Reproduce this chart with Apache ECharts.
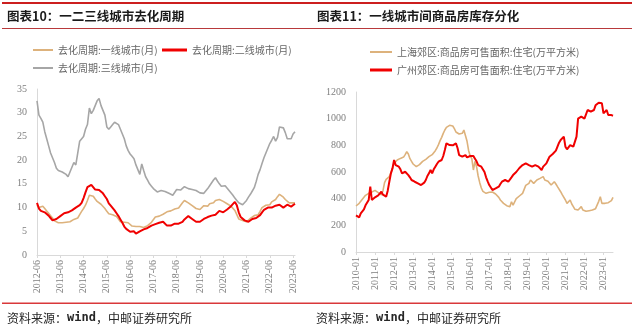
<!DOCTYPE html>
<html><head><meta charset="utf-8">
<script src="https://cdn.jsdelivr.net/npm/echarts@6/dist/echarts.min.js"></script>
<style>html,body{margin:0;padding:0;background:#fff}#c{width:640px;height:332px}</style>
</head><body><div id="c"></div>
<script>
// ---------- data ----------
const leftTitle = '图表10：一二三线城市去化周期';
const rightTitle = '图表11：一线城市间商品房库存分化';
const sourceText = ['资料来源：', 'wind', '，中邮证券研究所'];

const leftNames = ['去化周期:一线城市(月)', '去化周期:二线城市(月)', '去化周期:三线城市(月)'];
const rightNames = ['上海郊区:商品房可售面积:住宅(万平方米)', '广州郊区:商品房可售面积:住宅(万平方米)'];

const leftStart = [2012, 6], leftCount = 134;
const rightStart = [2010, 1], rightCount = 163;

const tier1 = [10.5,10,10.2,10.3,9.8,9.3,8.8,8.3,7.8,7.2,
6.9,6.8,6.8,6.8,6.8,6.9,6.9,7,7.2,7.5,
7.7,7.8,8.5,9.2,9.8,10.5,11.5,12.6,12.8,12.4,
11.8,11.3,11,10.7,10.3,9.8,9.2,8.7,8.5,8.5,
8.4,8.1,7.6,7,6.8,6.9,7,6.8,6.4,6.1,
6,6,6,6,5.9,5.8,5.9,6.2,6.6,6.9,
7.3,8,8.1,8.2,8.4,8.6,8.9,9.1,9.3,9.3,
9.5,9.7,9.8,9.9,10.2,11,11.5,11.3,11,10.7,
10.4,10,9.8,9.5,9.6,9.8,10.4,10.5,10.3,10.8,
11,11,11.5,11.7,11.7,11.5,11.3,11,10.8,10.6,
10.3,10,9.4,8.5,7.6,7.4,7.3,7.2,7,7.3,
7.7,8,8.3,8.6,8.5,9.2,10,10.4,10.5,10.5,
10.6,11.2,11.5,11.7,12.3,12.8,12.6,12.2,11.7,11.3,
11,10.9,11,11];

const tier2 = [11,9.8,9.3,9.2,9,8.7,8.3,7.8,7.3,7.4,
7.6,7.9,8.2,8.5,8.8,8.8,9,9.2,9.4,9.8,
10,10,10.5,11,12,13.2,14.3,14.7,14.8,14.4,
13.8,13.7,13.7,13.4,13,12.4,11.8,10.9,10.4,10,
9.4,8.8,8.2,7.5,6.8,6,5.5,5.1,4.9,4.8,
5,4.5,4.6,5,5.3,5.4,5.5,5.7,5.8,6.2,
6.3,6.5,6.6,6.8,6.9,7,6.9,6.2,6,6.2,
6.4,6.6,7,6.6,6.8,7,7.5,7.8,8.2,8.1,
7.6,7.3,7,7,7,7.3,7.6,8,8,8,
8.3,8.5,8.5,8.9,9.3,9.1,9,9.4,9.6,10,
10.3,10.7,11.2,10.5,9,8,7.6,7.3,7.1,7,
7.4,7.6,7.7,7.8,7.9,8.4,9,9.5,9.8,10,
10,10,10.1,10.4,10.8,10.6,10.4,10,10.1,10.6,
10.3,10.2,10.6,10.8];

const tier3 = [32.5,29.5,28.8,28,26,24.5,23,21.5,20.5,19.5,
18.3,17.8,17.5,17.5,17.2,17,16.5,17.5,18.5,19.5,
19,21.5,24,24.3,25,26.5,27.5,31,29.8,30.5,
31.5,32.5,33,31.5,30.5,29.5,27,26.5,27,27.5,
28,27.8,27.5,26.5,25.5,24.5,23,22,21.3,20.8,
20.3,19,18,17,19.2,17.8,16.5,15.8,15,14.5,
14,13.6,13.3,13.2,13.6,13.8,13.4,13.5,13,12.8,
12.6,12.3,13.8,13.6,13.7,14,14.4,14.2,14,13.9,
13.8,13.8,13.6,13.3,13.1,13,13,13.3,14,14.6,
15,15.8,16.3,15.6,15,14.5,14.6,14.6,14.2,13.6,
13.2,12.6,12,11.5,11,10.7,10.6,11,11.5,12.2,
12.8,13.5,14.2,15.5,17,18,19.3,20.5,21.5,22.5,
23.5,24.2,25,24,24.8,27,27.3,26.8,25.8,24.5,
24.3,24.5,25.5,26];

const shanghai = [345,350,365,380,395,410,425,432,440,445,
450,458,462,455,445,435,428,460,520,545,
555,565,595,627,665,680,690,698,702,705,
712,730,752,735,700,680,660,645,640,640,
655,670,680,688,695,705,715,722,730,745,
760,780,805,835,860,890,915,935,945,950,
955,945,925,900,895,885,877,890,915,900,
830,760,720,700,615,680,640,570,520,480,
455,445,440,440,448,452,450,440,435,427,
410,390,375,365,355,347,345,340,377,352,
360,400,415,420,427,440,452,500,505,515,
540,530,515,530,540,545,552,560,565,540,
535,530,520,502,510,527,510,490,480,452,
430,415,390,365,380,390,360,340,320,315,
315,330,340,315,307,305,302,310,315,315,
320,325,332,380,415,365,365,365,365,370,
375,385,410];

const guangzhou = [275,270,260,290,300,320,350,360,390,490,
390,380,410,415,425,440,452,430,420,415,
460,527,590,627,690,652,645,640,620,590,
600,602,590,577,560,540,545,527,520,515,
520,502,500,520,540,570,590,615,590,620,
640,660,677,680,690,720,765,815,800,802,
790,800,815,815,780,727,715,715,727,727,
710,702,720,727,720,700,680,652,660,640,
640,600,560,530,502,490,465,470,477,485,
490,510,527,535,540,530,527,540,560,577,
590,600,615,630,645,652,660,665,660,652,
645,640,645,652,645,640,630,615,640,650,
665,690,715,725,735,740,760,790,820,840,
827,865,790,770,765,802,795,790,800,865,
1000,1005,1015,1010,1000,990,1065,1058,1052,1060,
1065,1100,1115,1120,1127,1115,1040,1045,1065,1027,
1030,1027,1022];

// ---------- build ----------
function monthRange(y, m, n) {
  const out = [];
  for (let i = 0; i < n; i++) {
    const yy = y + Math.floor((m - 1 + i) / 12);
    const mm = (m - 1 + i) % 12 + 1;
    out.push(yy + '-' + (mm < 10 ? '0' : '') + mm);
  }
  return out;
}
const leftCats = monthRange(leftStart[0], leftStart[1], leftCount);
const rightCats = monthRange(rightStart[0], rightStart[1], rightCount);

const C_TAN = '#DDB27C', C_RED = '#F00000', C_GREY = '#A6A6A6';
const CJK = '"Noto Sans CJK SC", sans-serif';
const SERIF = '"Liberation Serif", "DejaVu Serif", serif';

function xAxis(gi, cats) {
  return {
    type: 'category', gridIndex: gi, data: cats, boundaryGap: false,
    axisLine: { lineStyle: { color: '#D9D9D9', width: 1 } },
    axisTick: { show: true, interval: 11, length: 3, lineStyle: { color: '#D9D9D9' } },
    axisLabel: { interval: 11, rotate: 90, margin: 5, color: '#7F7F7F', fontFamily: SERIF, fontSize: 10 },
    splitLine: { show: false }
  };
}
function yAxis(gi, max, step) {
  return {
    type: 'value', gridIndex: gi, min: 0, max: max, interval: step,
    axisLine: { show: true, lineStyle: { color: '#D9D9D9', width: 1 } },
    axisTick: { show: false },
    axisLabel: { margin: 10, color: '#7F7F7F', fontFamily: SERIF, fontSize: 10, formatter: function (v) { return String(v); } },
    splitLine: { show: false }
  };
}
function line(name, data, color, w, gi) {
  return { type: 'line', name: name, data: data, xAxisIndex: gi, yAxisIndex: gi,
    showSymbol: false, symbol: 'none', lineStyle: { color: color, width: w }, itemStyle: { color: color },
    emphasis: { disabled: true }, animation: false };
}
function legend(name, left, top, w, h) {
  return { data: [name], left: left, top: top, icon: 'rect', itemWidth: w, itemHeight: h, itemGap: 0,
    textStyle: { color: '#666', fontFamily: CJK, fontSize: 10 }, selectedMode: false, padding: 0 };
}

const chart = echarts.init(document.getElementById('c'), null, { renderer: 'canvas' });
chart.setOption({
  animation: false,
  backgroundColor: '#fff',
  grid: [
    { left: 37, top: 89, width: 258, height: 166 },
    { left: 356, top: 92, width: 257, height: 160 }
  ],
  xAxis: [xAxis(0, leftCats), xAxis(1, rightCats)],
  yAxis: [yAxis(0, 35, 5), yAxis(1, 1200, 200)],
  legend: [
    legend(leftNames[0], 33, 45, 20, 2),
    legend(leftNames[1], 162, 45, 25, 3),
    legend(leftNames[2], 33, 63, 20, 2),
    legend(rightNames[0], 370, 47, 22, 2),
    legend(rightNames[1], 370, 65, 22, 3)
  ],
  series: [
    line(leftNames[2], tier3, C_GREY, 1.6, 0),
    line(leftNames[0], tier1, C_TAN, 1.6, 0),
    line(leftNames[1], tier2, C_RED, 2, 0),
    line(rightNames[0], shanghai, C_TAN, 1.6, 1),
    line(rightNames[1], guangzhou, C_RED, 2, 1)
  ],
  graphic: [
    { type: 'rect', shape: { x: 2, y: 2, width: 630, height: 2 }, style: { fill: '#CC1F1F' }, silent: true },
    { type: 'rect', shape: { x: 2, y: 28, width: 630, height: 1 }, style: { fill: '#B8393B' }, silent: true },
    { type: 'rect', shape: { x: 2, y: 302.5, width: 630, height: 1.5 }, style: { fill: '#D9383A' }, silent: true },
    { type: 'text', x: 7, y: 16.5, style: { text: leftTitle, fill: '#1A1A1A', font: 'bold 12.5px "Noto Sans CJK SC", sans-serif', verticalAlign: 'middle' }, silent: true },
    { type: 'text', x: 317, y: 16.5, style: { text: rightTitle, fill: '#1A1A1A', font: 'bold 12.5px "Noto Sans CJK SC", sans-serif', verticalAlign: 'middle' }, silent: true },
    { type: 'text', x: 7, y: 318, style: { text: '{a|' + sourceText[0] + '}{b|' + sourceText[1] + '}{a|' + sourceText[2] + '}', verticalAlign: 'middle',
        rich: { a: { fill: '#262626', font: '12px "Noto Sans CJK SC", sans-serif' }, b: { fill: '#262626', font: 'bold 12px "DejaVu Sans Mono", monospace' } } }, silent: true },
    { type: 'text', x: 316, y: 318, style: { text: '{a|' + sourceText[0] + '}{b|' + sourceText[1] + '}{a|' + sourceText[2] + '}', verticalAlign: 'middle',
        rich: { a: { fill: '#262626', font: '12px "Noto Sans CJK SC", sans-serif' }, b: { fill: '#262626', font: 'bold 12px "DejaVu Sans Mono", monospace' } } }, silent: true }
  ]
});
</script></body></html>
